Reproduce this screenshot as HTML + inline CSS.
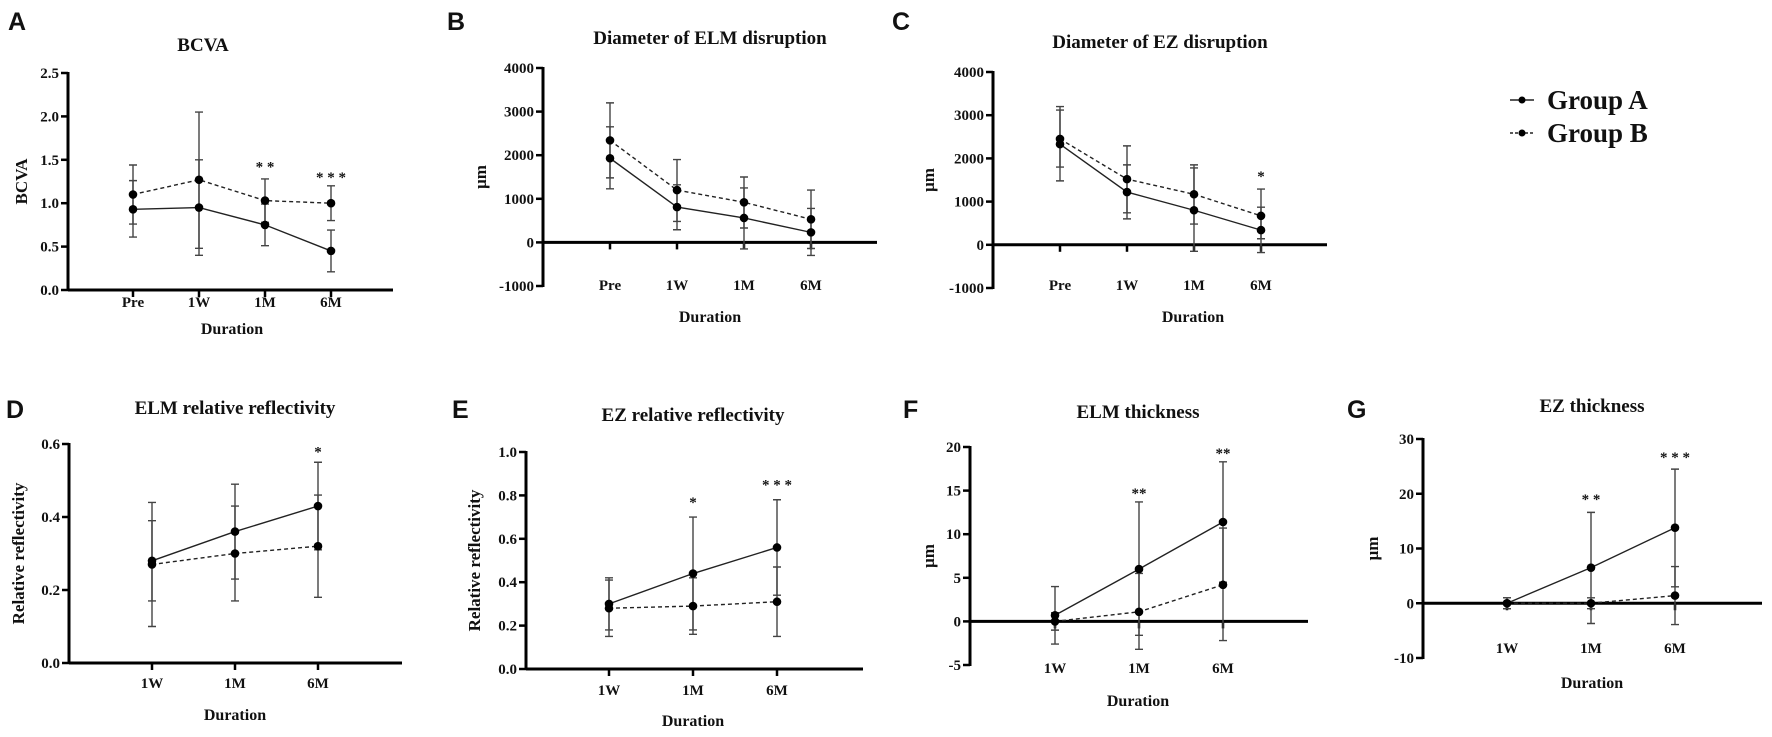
<!DOCTYPE html>
<html><head><meta charset="utf-8"><style>
html,body{margin:0;padding:0;background:#fff;}
svg{display:block;}
text{font-family:"Liberation Serif",serif;font-weight:bold;fill:#111;}
.lbl{font-family:"Liberation Sans",sans-serif;font-size:25px;}
</style></head><body>
<svg id="fig" width="1772" height="737" viewBox="0 0 1772 737" xmlns="http://www.w3.org/2000/svg"></svg>
<script>
// ---- Data ----
const catsPre = ["Pre","1W","1M","6M"];
const catsPost = ["1W","1M","6M"];
// A BCVA
const aMeanA = [0.93,0.95,0.75,0.45], aMeanB = [1.10,1.27,1.03,1.00];
const aLowA = [0.61,0.40,0.51,0.21], aHighA = [1.26,1.50,0.99,0.69];
const aLowB = [0.76,0.48,0.78,0.80], aHighB = [1.44,2.05,1.28,1.20];
const aTicks = [0,0.5,1.0,1.5,2.0,2.5];
const aStars = ["","","* *","* * *"], aStarY = [0,0,1.42,1.30];
// B ELM disruption
const bMeanA = [1930,810,560,230], bMeanB = [2340,1200,920,530];
const bLowA = [1230,290,-150,-300], bHighA = [2650,1320,1250,780];
const bLowB = [1480,480,330,-140], bHighB = [3200,1900,1500,1200];
const bTicks = [-1000,0,1000,2000,3000,4000];
// C EZ disruption
const cMeanA = [2330,1220,800,340], cMeanB = [2450,1520,1170,670];
const cLowA = [1480,600,-150,-180], cHighA = [3120,1850,1780,870];
const cLowB = [1800,740,480,140], cHighB = [3200,2290,1850,1290];
const cTicks = [-1000,0,1000,2000,3000,4000];
const cStars = ["","","","*"], cStarY = [0,0,0,1590];
// D ELM reflectivity
const dMeanA = [0.28,0.36,0.43], dMeanB = [0.27,0.30,0.32];
const dLowA = [0.10,0.23,0.31], dHighA = [0.44,0.49,0.55];
const dLowB = [0.17,0.17,0.18], dHighB = [0.39,0.43,0.46];
const dTicks = [0,0.2,0.4,0.6];
const dStars = ["","","*"], dStarY = [0,0,0.58];
// E EZ reflectivity
const eMeanA = [0.30,0.44,0.56], eMeanB = [0.28,0.29,0.31];
const eLowA = [0.18,0.18,0.34], eHighA = [0.42,0.70,0.78];
const eLowB = [0.15,0.16,0.15], eHighB = [0.41,0.42,0.47];
const eTicks = [0,0.2,0.4,0.6,0.8,1.0];
const eStars = ["","*","* * *"], eStarY = [0,0.77,0.85];
// F ELM thickness
const fMeanA = [0.7,6.0,11.4], fMeanB = [0.0,1.1,4.2];
const fLowA = [-2.6,-1.6,4.5], fHighA = [4.0,13.7,18.3];
const fLowB = [-1.0,-3.2,-2.2], fHighB = [1.0,5.5,10.7];
const fTicks = [-5,0,5,10,15,20];
const fStars = ["","**","**"], fStarY = [0,14.7,19.3];
// G EZ thickness
const gMeanA = [0.0,6.5,13.8], gMeanB = [0.0,0.0,1.4];
const gLowA = [-1.0,-3.7,3.0], gHighA = [1.0,16.6,24.5];
const gLowB = [-1.0,-1.0,-3.9], gHighB = [1.0,1.0,6.7];
const gTicks = [-10,0,10,20,30];
const gStars = ["","* *","* * *"], gStarY = [0,19,26.7];

const NS = "http://www.w3.org/2000/svg";
const svg = document.getElementById("fig");
function mk(tag, attrs, parent, txt){
  const e = document.createElementNS(NS, tag);
  for (const k in attrs) e.setAttribute(k, attrs[k]);
  if (txt !== undefined) e.textContent = txt;
  (parent||svg).appendChild(e);
  return e;
}

function panel(p){
  const g = mk("g", {});
  
  
  const ys = v => p.y0 + (v - p.vmin) / (p.vmax - p.vmin) * (p.y1 - p.y0);
  const xs = i => p.xc[0] + i * (p.xc[1] - p.xc[0]);
  const L = mk("text", {x:p.lx, y:p.ly, class:"lbl"}, g, p.id);
  
  
  const T = mk("text", {x:p.tx, y:p.ty, "text-anchor":"middle", "font-size":19}, g, p.title);
  
  
  const ya = mk("line", {x1:p.ax, x2:p.ax, y1:ys(p.vmax)-1, y2:ys(p.vmin)+1, stroke:"#000", "stroke-width":3}, g);
  
  
  p.ticks.forEach(t => {
    mk("line", {x1:p.ax-7, x2:p.ax, y1:ys(t), y2:ys(t), stroke:"#000", "stroke-width":2.5}, g);
    const tl = mk("text", {x:p.ax-9, y:ys(t)+5, "text-anchor":"end", "font-size":15}, g, p.fmt(t));
    
    
  });
  const yt = mk("text", {x:0, y:0, "text-anchor":"middle", "font-size":17, transform:`translate(${p.ytx},${(ys(p.vmax)+ys(p.vmin))/2}) rotate(-90)`}, g, p.ylabel);
  
  
  const xy = ys(p.xaxisAt);
  const xa = mk("line", {x1:p.ax, x2:p.axEnd, y1:xy, y2:xy, stroke:"#000", "stroke-width":3}, g);
  
  
  p.cats.forEach((c,i) => {
    mk("line", {x1:xs(i), x2:xs(i), y1:xy, y2:xy+7, stroke:"#000", "stroke-width":2.5}, g);
    const tl = mk("text", {x:xs(i), y:p.tickY, "text-anchor":"middle", "font-size":15}, g, c);
    
    
  });
  const xt = mk("text", {x:p.dx, y:p.dy, "text-anchor":"middle", "font-size":16}, g, "Duration");
  
  
  [[p.lowA,p.highA],[p.lowB,p.highB]].forEach(([lo,hi]) => {
    lo.forEach((l,i) => {
      const x = xs(i);
      const eb = mk("path", {d:`M${x},${ys(l)}V${ys(hi[i])}M${x-4},${ys(l)}H${x+4}M${x-4},${ys(hi[i])}H${x+4}`, stroke:"#444", "stroke-width":1.4, fill:"none"}, g);
      
      
    });
  });
  [[p.meanA,"none","group-a-line"],[p.meanB,"4,3","group-b-line"]].forEach(([m,dash,name]) => {
    const ln = mk("polyline", {points:m.map((v,i)=>`${xs(i)},${ys(v)}`).join(" "), fill:"none", stroke:"#222", "stroke-width":1.4, "stroke-dasharray":dash}, g);
    
    
    m.forEach((v,i) => {
      const pt = mk("circle", {cx:xs(i), cy:ys(v), r:4.3, fill:"#000"}, g);
      
      
    });
  });
  if (p.stars) p.stars.forEach((s,i) => {
    if (!s) return;
    const st = mk("text", {x:xs(i), y:ys(p.starY[i])+5, "text-anchor":"middle", "font-size":15}, g, s);
    
    
  });
}
const f1 = t => t.toFixed(1);
const f0 = t => String(t);

panel({id:"A", title:"BCVA", lx:8, ly:30, tx:203, ty:51, ax:68, axEnd:393, vmin:0, vmax:2.5, y0:290, y1:73,
  xc:[133,199], cats:catsPre, ticks:aTicks, fmt:f1, ylabel:"BCVA", ytx:27, xaxisAt:0, tickY:307, dx:232, dy:334,
  meanA:aMeanA, meanB:aMeanB, lowA:aLowA, highA:aHighA, lowB:aLowB, highB:aHighB, stars:aStars, starY:aStarY});
panel({id:"B", title:"Diameter of ELM disruption", lx:447, ly:30, tx:710, ty:44, ax:543, axEnd:877, vmin:-1000, vmax:4000, y0:286, y1:68,
  xc:[610,677], cats:catsPre, ticks:bTicks, fmt:f0, ylabel:"µm", ytx:486, xaxisAt:0, tickY:290, dx:710, dy:322,
  meanA:bMeanA, meanB:bMeanB, lowA:bLowA, highA:bHighA, lowB:bLowB, highB:bHighB});
panel({id:"C", title:"Diameter of EZ disruption", lx:892, ly:30, tx:1160, ty:48, ax:993, axEnd:1327, vmin:-1000, vmax:4000, y0:288, y1:72,
  xc:[1060,1127], cats:catsPre, ticks:cTicks, fmt:f0, ylabel:"µm", ytx:934, xaxisAt:0, tickY:290, dx:1193, dy:322,
  meanA:cMeanA, meanB:cMeanB, lowA:cLowA, highA:cHighA, lowB:cLowB, highB:cHighB, stars:cStars, starY:cStarY});
panel({id:"D", title:"ELM relative reflectivity", lx:6, ly:418, tx:235, ty:414, ax:69, axEnd:402, vmin:0, vmax:0.6, y0:663, y1:444,
  xc:[152,235], cats:catsPost, ticks:dTicks, fmt:f1, ylabel:"Relative reflectivity", ytx:24, xaxisAt:0, tickY:688, dx:235, dy:720,
  meanA:dMeanA, meanB:dMeanB, lowA:dLowA, highA:dHighA, lowB:dLowB, highB:dHighB, stars:dStars, starY:dStarY});
panel({id:"E", title:"EZ relative reflectivity", lx:452, ly:418, tx:693, ty:421, ax:526, axEnd:863, vmin:0, vmax:1.0, y0:669, y1:452,
  xc:[609,693], cats:catsPost, ticks:eTicks, fmt:f1, ylabel:"Relative reflectivity", ytx:480, xaxisAt:0, tickY:695, dx:693, dy:726,
  meanA:eMeanA, meanB:eMeanB, lowA:eLowA, highA:eHighA, lowB:eLowB, highB:eHighB, stars:eStars, starY:eStarY});
panel({id:"F", title:"ELM thickness", lx:903, ly:418, tx:1138, ty:418, ax:970, axEnd:1308, vmin:-5, vmax:20, y0:665, y1:447,
  xc:[1055,1139], cats:catsPost, ticks:fTicks, fmt:f0, ylabel:"µm", ytx:934, xaxisAt:0, tickY:673, dx:1138, dy:706,
  meanA:fMeanA, meanB:fMeanB, lowA:fLowA, highA:fHighA, lowB:fLowB, highB:fHighB, stars:fStars, starY:fStarY});
panel({id:"G", title:"EZ thickness", lx:1347, ly:418, tx:1592, ty:412, ax:1423, axEnd:1762, vmin:-10, vmax:30, y0:658, y1:439,
  xc:[1507,1591], cats:catsPost, ticks:gTicks, fmt:f0, ylabel:"µm", ytx:1378, xaxisAt:0, tickY:653, dx:1592, dy:688,
  meanA:gMeanA, meanB:gMeanB, lowA:gLowA, highA:gHighA, lowB:gLowB, highB:gHighB, stars:gStars, starY:gStarY});

const lg = mk("g", {});


[["Group A","none",100],["Group B","3,2",133]].forEach(([name,dash,y]) => {
  const e = mk("g", {}, lg);
  
  
  mk("line", {x1:1510, x2:1534, y1:y, y2:y, stroke:"#222", "stroke-width":1.4, "stroke-dasharray":dash}, e);
  mk("circle", {cx:1522, cy:y, r:3.5, fill:"#000"}, e);
  mk("text", {x:1547, y:y+9, "font-size":27}, e, name);
});
</script>
</body></html>
